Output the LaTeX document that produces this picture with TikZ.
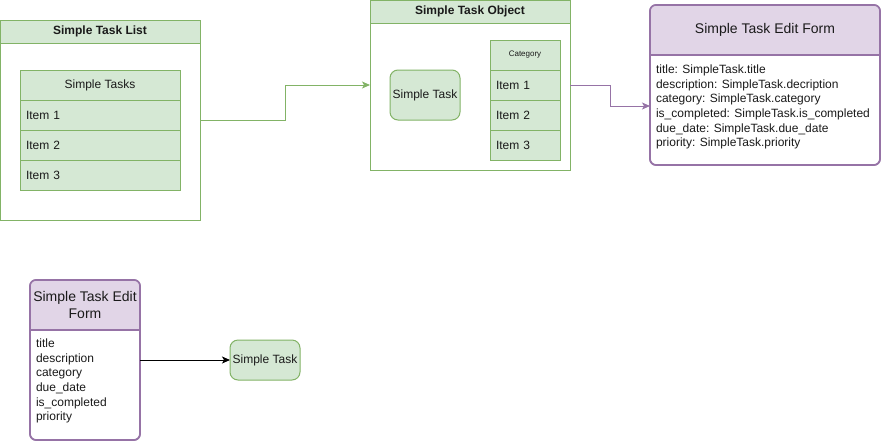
\documentclass[tikz,border=0pt]{standalone}
\usepackage{fontspec}
\setmainfont{Liberation Sans}
\usetikzlibrary{arrows.meta,calc}
\definecolor{gfill}{HTML}{D5E8D4}
\definecolor{gline}{HTML}{82B366}
\definecolor{pfill}{HTML}{E1D5E7}
\definecolor{pline}{HTML}{9673A6}
\definecolor{txt}{HTML}{1A1A1A}
\tikzset{
  every node/.style={outer sep=0pt},
  gbox/.style={draw=gline, line width=1pt, fill=white, rectangle, inner sep=0pt, anchor=north west},
  ghead/.style={draw=gline, line width=1pt, fill=gfill, rectangle, inner sep=0pt, anchor=north west, text=txt, font=\fontsize{12}{14}\selectfont\bfseries},
  gcell/.style={draw=gline, line width=1pt, fill=gfill, rectangle, inner sep=0pt, anchor=north west, text=txt, font=\fontsize{12}{14}\selectfont},
  gitem/.style={gcell, inner xsep=6pt, text width=#1, align=left, minimum height=30pt},
  gtask/.style={draw=gline, line width=1pt, fill=gfill, rounded corners=8pt, inner sep=0pt, anchor=north west, text=txt, font=\fontsize{12}{14}\selectfont},
  pform/.style={draw=pline, line width=1.6pt, fill=white, rounded corners=6pt, inner sep=0pt, anchor=north west},
  pborder/.style={draw=pline, line width=1.6pt},
  ptext/.style={inner sep=0pt, anchor=north west, align=left, text=txt, font=\fontsize{12}{14.6}\selectfont},
  ptitle/.style={inner sep=0pt, align=center, text=txt, font=\fontsize{14}{17}\selectfont},
  garrow/.style={draw=gline, line width=1pt, -{Stealth[length=8pt,width=7pt,inset=2pt]}},
  parrow/.style={draw=pline, line width=1pt, -{Stealth[length=8pt,width=7pt,inset=2pt]}},
  karrow/.style={draw=black, line width=1pt, -{Stealth[length=8pt,width=7pt,inset=2pt]}},
}
\begin{document}
\begin{tikzpicture}[x=1pt,y=-1pt]
\useasboundingbox (0,0) rectangle (882,442);

% Simple Task List
\node[gbox, minimum width=200pt, minimum height=200pt] (stl) at (0,20) {};
\node[ghead, minimum width=200pt, minimum height=23pt] (stlh) at (0,20) {Simple Task List};
\node[gcell, minimum width=160pt, minimum height=30pt] (sts) at (20,70) {Simple Tasks};
\node[gitem=148pt] (sti1) at (20,100) {Item 1};
\node[gitem=148pt] (sti2) at (20,130) {Item 2};
\node[gitem=148pt] (sti3) at (20,160) {Item 3};

% Simple Task Object
\node[gbox, minimum width=200pt, minimum height=170pt] (sto) at (370,0) {};
\node[ghead, minimum width=200pt, minimum height=23pt] (stoh) at (370,0) {Simple Task Object};
\node[gtask, minimum width=70pt, minimum height=50pt] (st) at (390,70) {Simple Task};
\node[gcell, minimum width=70pt, minimum height=30pt, font=\fontsize{8}{9}\selectfont] (cat) at (490,40) {Category};
\node[gitem=58pt] (ci1) at (490,70) {Item 1};
\node[gitem=58pt] (ci2) at (490,100) {Item 2};
\node[gitem=58pt] (ci3) at (490,130) {Item 3};

% Simple Task Edit Form (top)
\node[pform, minimum width=230pt, minimum height=160pt] (ef) at (650,5) {};
\begin{scope}
  \clip[rounded corners=6pt] (ef.north west) rectangle (ef.south east);
  \fill[pfill] (ef.north west) rectangle (880,55);
\end{scope}
\draw[pborder, rounded corners=6pt] (ef.north west) rectangle (ef.south east);
\draw[pborder] (650,55) -- (880,55);
\node[ptitle] (eft) at (765,30) {Simple Task Edit Form};
\node[ptext] (efb) at (656,65) {title: SimpleTask.title\\description: SimpleTask.decription\\category: SimpleTask.category\\is\_completed: SimpleTask.is\_completed\\due\_date: SimpleTask.due\_date\\priority: SimpleTask.priority};

% Simple Task Edit Form (bottom)
\node[pform, minimum width=110pt, minimum height=160pt] (ef2) at (30,280) {};
\begin{scope}
  \clip[rounded corners=6pt] (ef2.north west) rectangle (ef2.south east);
  \fill[pfill] (ef2.north west) rectangle (140,330);
\end{scope}
\draw[pborder, rounded corners=6pt] (ef2.north west) rectangle (ef2.south east);
\draw[pborder] (30,330) -- (140,330);
\node[ptitle] (ef2t) at (85,305) {Simple Task Edit\\Form};
\node[ptext] (ef2b) at (36,339) {title\\description\\category\\due\_date\\is\_completed\\priority};

\node[gtask, minimum width=70pt, minimum height=40pt] (st2) at (230,340) {Simple Task};

% connectors
\draw[garrow] (stl.east) -- ++(85pt,0) |- (sto.west);
\draw[parrow] (sto.east) -- ++(40pt,0) |- ([yshift=-21pt]ef.west);
\draw[karrow] (ef2.east) -- (st2.west);
\end{tikzpicture}
\end{document}
